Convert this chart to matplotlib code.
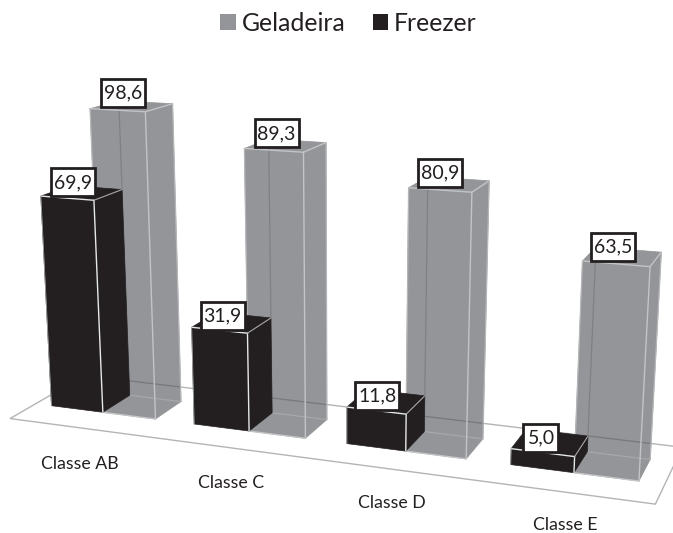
import numpy as np
import matplotlib
matplotlib.use('Agg')
import matplotlib.pyplot as plt
from matplotlib.patches import Polygon, Patch, Rectangle

categories = ['Classe AB', 'Classe C', 'Classe D', 'Classe E']
geladeira = [98.6, 89.3, 80.9, 63.5]
freezer = [69.9, 31.9, 11.8, 5.0]

# one bar is 1 wide and 1 deep, categories repeat every SPACING bars
SPACING = 2.72
# camera of the fake 3D view: (bar x, bar depth, value) -> pixels
CAMERA = np.array([[50.12919, 30.71836, -0.17288, 51.45743],
                   [1.62136, -4.12035, -3.09730, 405.69890],
                   [-0.012044, 0.032107, -0.000502, 1.0]])

GRAY = '#939598'
BLACK = '#231f20'

plt.rcParams['font.family'] = ['Lato', 'DejaVu Sans']


def project(x, y, z):
    p = CAMERA @ np.array([x, y, z, 1.0])
    return p[0] / p[2], p[1] / p[2]


fig = plt.figure(figsize=(6.73, 5.33), dpi=100)
ax = fig.add_axes([0, 0, 1, 1])
ax.set_xlim(0, 673)
ax.set_ylim(533, 0)
ax.axis('off')


def line(a, b, color, lw=1.0, z=3):
    pa, pb = project(*a), project(*b)
    return ax.plot([pa[0], pb[0]], [pa[1], pb[1]], color=color, lw=lw, zorder=z,
                   solid_capstyle='round')[0]


def box(x0, x1, h, color, z):
    faces = [[project(x0, 0, 0), project(x1, 0, 0), project(x1, 0, h), project(x0, 0, h)],
             [project(x1, 0, 0), project(x1, 1, 0), project(x1, 1, h), project(x1, 0, h)],
             [project(x0, 0, h), project(x1, 0, h), project(x1, 1, h), project(x0, 1, h)]]
    patches = []
    for f in faces:
        p = Polygon(f, closed=True, fc=color, ec=color, lw=0.5, zorder=z)
        ax.add_patch(p)
        patches.append(p)
    return patches


# floor
fx0, fx1, fy0, fy1 = -0.31, 3 * SPACING + 2.39, -0.85, 1.75
floor = [project(fx0, fy0, 0), project(fx1, fy0, 0), project(fx1, fy1, 0), project(fx0, fy1, 0)]
ax.add_patch(Polygon(floor, closed=True, fc='none', ec='#b3b4b6', lw=1.0, zorder=1))

for i, cat in enumerate(categories):
    x = i * SPACING
    g = geladeira[i]
    f = freezer[i]
    front, side, top = box(x + 1, x + 2, g, GRAY, 2)
    # the gray bars are see-through, floor and back edges show in them
    line((x + 1, 1, 0), (x + 1, 1, g), '#7f8083', 0.9)
    line((x + 1, 1, 0), (x + 2, 1, 0), '#a7a8aa', 0.9)
    for face in (front, side):
        line((fx0, fy1, 0), (fx1, fy1, 0), '#77787b', 0.9).set_clip_path(face)
    line((x + 2, 0, 0), (x + 2, 0, g), '#c3c4c6', 1.0)
    line((x + 1, 0, 0), (x + 2, 0, 0), '#c3c4c6', 1.0)
    line((x + 2, 0, g), (x + 2, 1, g), '#c3c4c6', 1.0)
    line((x + 1, 0, g), (x + 2, 0, g), '#c3c4c6', 1.0)
    line((x + 2, 1, g), (x + 2, 1, 0), '#b5b6b8', 0.9)
    line((x + 1, 0, g), (x + 1, 0, 0), '#b5b6b8', 0.9)

    box(x, x + 1, f, BLACK, 4)
    line((x + 1, 0, 0), (x + 1, 0, f), '#e6e7e8', 1.0, 5)
    line((x, 0, f), (x + 1, 0, f), '#e6e7e8', 1.0, 5)
    line((x + 1, 0, f), (x + 1, 1, f), '#a7a8aa', 0.8, 5)
    line((x, 0, f), (x, 0, 0), '#a7a8aa', 0.6, 5)

    # value labels, the white boxes are taller than a text bbox would be
    for x0, v in [(x, f), (x + 1, g)]:
        cx, cy = project(x0 + 0.5, 0.5, v)
        cx -= 9
        cy -= 4 + 0.09 * v
        label = f'{v:.1f}'.replace('.', ',')
        w = 9 * len(label) + 8
        ax.add_patch(Rectangle((cx - w / 2, cy - 14), w, 28, fc='white', ec=BLACK, lw=2.0, zorder=7))
        ax.text(cx, cy, label, ha='center', va='center', fontsize=14, color=BLACK, zorder=8)

    lx, ly = project(x + 1.05, -0.85, 0)
    ax.text(lx - 1 + 0.5 * i, ly + 36 - i, cat, ha='center', va='center', fontsize=12.8, color=BLACK)

handles = [Patch(fc=GRAY, ec='none', label='Geladeira'), Patch(fc=BLACK, ec='none', label='Freezer')]
ax.legend(handles=handles, loc='center', bbox_to_anchor=(0.518, 0.956), ncol=2, frameon=False,
          fontsize=17.8, handlelength=0.62, handleheight=0.62, handletextpad=0.25, columnspacing=1.1,
          labelcolor=BLACK, borderaxespad=0, borderpad=0)

fig.savefig('out.png', dpi=100)
